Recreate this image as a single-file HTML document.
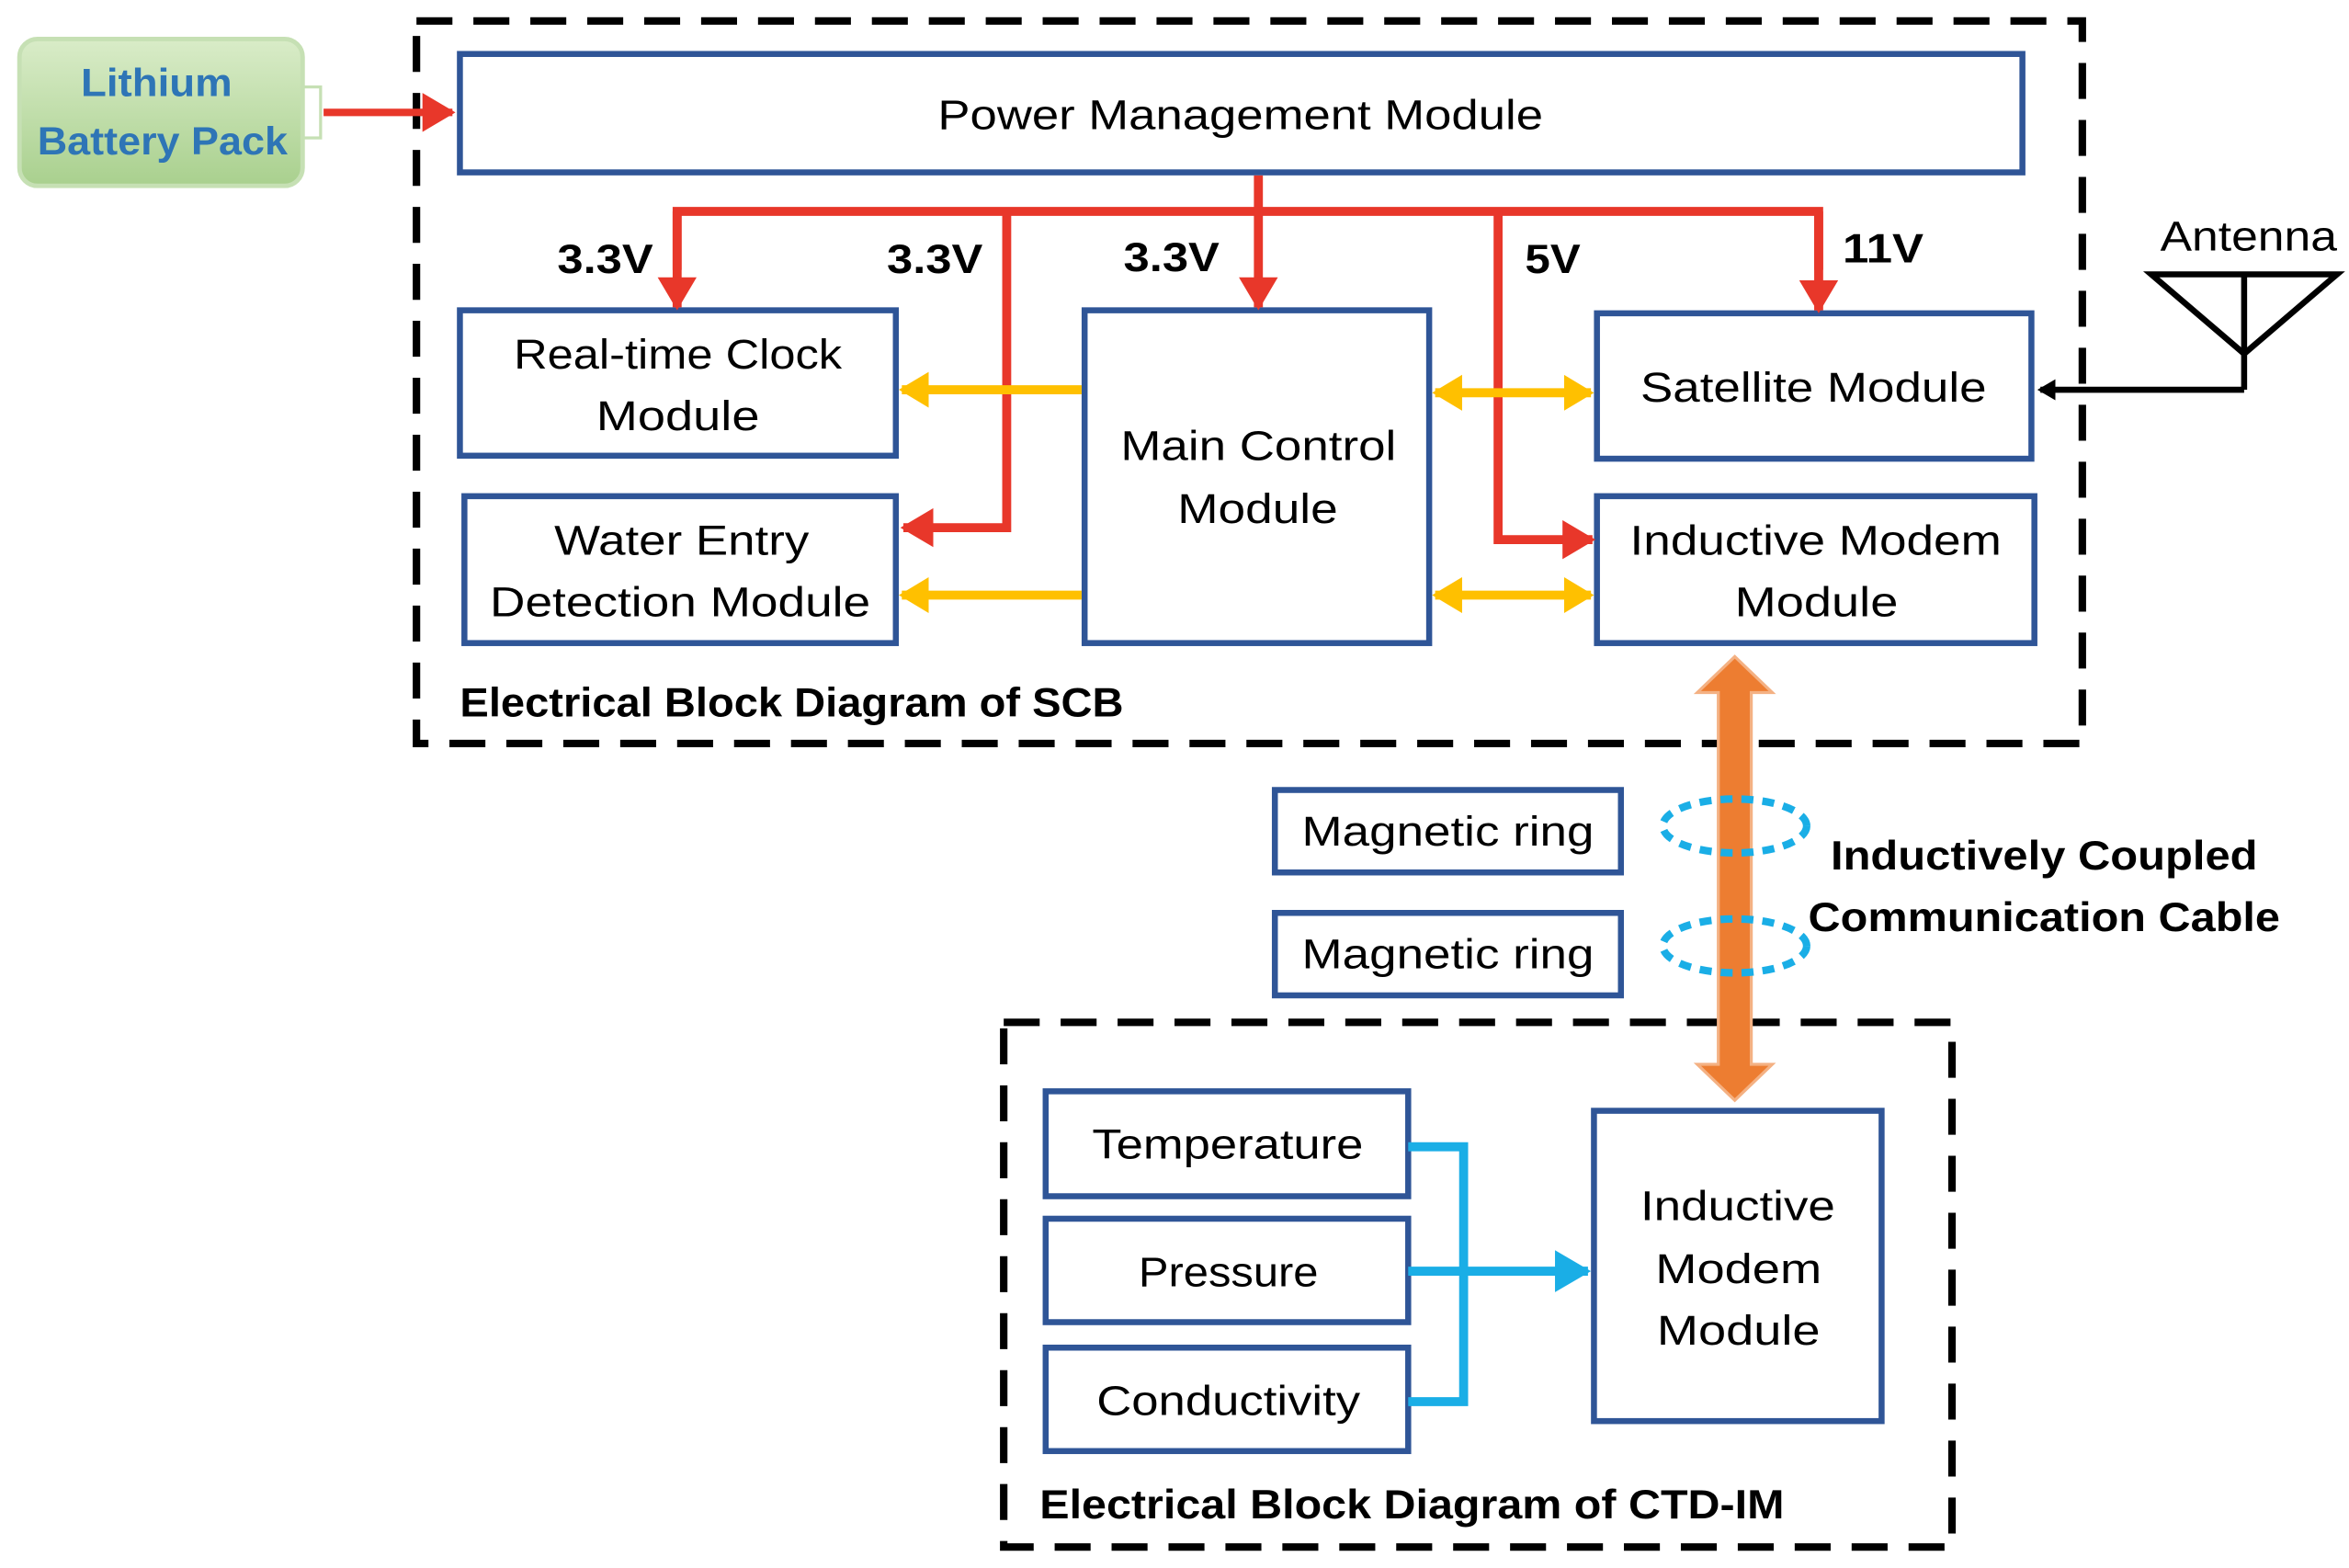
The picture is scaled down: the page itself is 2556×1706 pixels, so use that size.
<!DOCTYPE html>
<html><head><meta charset="utf-8"><style>
html,body{margin:0;padding:0;background:#fff;}
svg{display:block;}
text{font-family:"Liberation Sans",sans-serif;}
</style></head><body>
<svg width="2556" height="1706" viewBox="0 0 1568 1046" preserveAspectRatio="none" xmlns="http://www.w3.org/2000/svg">
<defs>
<linearGradient id="g" x1="0" y1="0" x2="0" y2="1"><stop offset="0" stop-color="#d9ecc8"/><stop offset="1" stop-color="#a9d08e"/></linearGradient>
<marker id="ar" markerWidth="22" markerHeight="26" refX="20" refY="13" orient="auto" markerUnits="userSpaceOnUse"><path d="M0,0 L22,13 L0,26 z" fill="#e8372a"/></marker>
<marker id="ay" markerWidth="20" markerHeight="24" refX="18" refY="12" orient="auto-start-reverse" markerUnits="userSpaceOnUse"><path d="M0,0 L20,12 L0,24 z" fill="#ffc000"/></marker>
<marker id="ab" markerWidth="24" markerHeight="28" refX="22" refY="14" orient="auto" markerUnits="userSpaceOnUse"><path d="M0,0 L24,14 L0,28 z" fill="#1aaee6"/></marker>
<marker id="ak" markerWidth="12" markerHeight="14" refX="10" refY="7" orient="auto" markerUnits="userSpaceOnUse"><path d="M0,0 L12,7 L0,14 z" fill="#000"/></marker>
</defs>
<rect x="278" y="14" width="1112" height="482" fill="none" stroke="#000" stroke-width="5" stroke-dasharray="24,14"/>
<rect x="670" y="682" width="633" height="350" fill="none" stroke="#000" stroke-width="5" stroke-dasharray="24,14"/>
<rect x="202" y="58" width="12" height="34" fill="#fff" stroke="#c6e0b4" stroke-width="2"/>
<rect x="13" y="26" width="189" height="98" rx="12" fill="url(#g)" stroke="#c6e0b4" stroke-width="3"/>
<g lengthAdjust="spacingAndGlyphs">
<text x="54" y="64" font-size="26" font-weight="bold" fill="#2e75b6" textLength="101" lengthAdjust="spacingAndGlyphs">Lithium</text>
<text x="25" y="103" font-size="26" font-weight="bold" fill="#2e75b6" textLength="167" lengthAdjust="spacingAndGlyphs">Battery Pack</text>
</g>
<line x1="216" y1="75" x2="302" y2="75" stroke="#e8372a" stroke-width="5" marker-end="url(#ar)"/>
<g fill="#fff" stroke="#2f5597" stroke-width="4">
<rect x="307" y="36" width="1043" height="79"/>
<rect x="307" y="207" width="291" height="97"/>
<rect x="310" y="331" width="288" height="98"/>
<rect x="724" y="207" width="230" height="222"/>
<rect x="1066" y="209" width="290" height="97"/>
<rect x="1066" y="331" width="292" height="98"/>
<rect x="851" y="527" width="231" height="55"/>
<rect x="851" y="609" width="231" height="55"/>
<rect x="698" y="728" width="242" height="70"/>
<rect x="698" y="813" width="242" height="69"/>
<rect x="698" y="899" width="242" height="69"/>
<rect x="1064" y="741" width="192" height="207"/>
</g>
<g font-size="28" fill="#000">
<text x="626" y="86" textLength="404" lengthAdjust="spacingAndGlyphs">Power Management Module</text>
<text x="343" y="246" textLength="219" lengthAdjust="spacingAndGlyphs">Real-time Clock</text>
<text x="398" y="287" textLength="109" lengthAdjust="spacingAndGlyphs">Module</text>
<text x="370" y="370" textLength="170" lengthAdjust="spacingAndGlyphs">Water Entry</text>
<text x="327" y="411" textLength="254" lengthAdjust="spacingAndGlyphs">Detection Module</text>
<text x="748" y="307" textLength="184" lengthAdjust="spacingAndGlyphs">Main Control</text>
<text x="786" y="349" textLength="107" lengthAdjust="spacingAndGlyphs">Module</text>
<text x="1095" y="268" textLength="231" lengthAdjust="spacingAndGlyphs">Satellite Module</text>
<text x="1088" y="370" textLength="248" lengthAdjust="spacingAndGlyphs">Inductive Modem</text>
<text x="1158" y="411" textLength="109" lengthAdjust="spacingAndGlyphs">Module</text>
<text x="869" y="564" textLength="195" lengthAdjust="spacingAndGlyphs">Magnetic ring</text>
<text x="869" y="646" textLength="195" lengthAdjust="spacingAndGlyphs">Magnetic ring</text>
<text x="729" y="773" textLength="181" lengthAdjust="spacingAndGlyphs">Temperature</text>
<text x="760" y="858" textLength="120" lengthAdjust="spacingAndGlyphs">Pressure</text>
<text x="732" y="944" textLength="176" lengthAdjust="spacingAndGlyphs">Conductivity</text>
<text x="1095" y="814" textLength="130" lengthAdjust="spacingAndGlyphs">Inductive</text>
<text x="1105" y="856" textLength="111" lengthAdjust="spacingAndGlyphs">Modem</text>
<text x="1106" y="897" textLength="109" lengthAdjust="spacingAndGlyphs">Module</text>
<text x="1442" y="167" textLength="118" lengthAdjust="spacingAndGlyphs">Antenna</text>
</g>
<g font-size="27" font-weight="bold" fill="#000">
<text x="372" y="182" textLength="64" lengthAdjust="spacingAndGlyphs">3.3V</text>
<text x="592" y="182" textLength="64" lengthAdjust="spacingAndGlyphs">3.3V</text>
<text x="750" y="181" textLength="64" lengthAdjust="spacingAndGlyphs">3.3V</text>
<text x="1018" y="182" textLength="37" lengthAdjust="spacingAndGlyphs">5V</text>
<text x="1230" y="175" textLength="54" lengthAdjust="spacingAndGlyphs">11V</text>
<text x="307" y="478" textLength="443" lengthAdjust="spacingAndGlyphs">Electrical Block Diagram of SCB</text>
<text x="694" y="1013" textLength="497" lengthAdjust="spacingAndGlyphs">Electrical Block Diagram of CTD-IM</text>
<text x="1222" y="580" textLength="285" lengthAdjust="spacingAndGlyphs">Inductively Coupled</text>
<text x="1207" y="621" textLength="315" lengthAdjust="spacingAndGlyphs">Communication Cable</text>
</g>
<g fill="none" stroke="#e8372a" stroke-width="6">
<polyline points="840,117 840,141"/>
<polyline points="452,180 452,141 1214,141 1214,180"/>
<line x1="452" y1="141" x2="452" y2="205" marker-end="url(#ar)"/>
<line x1="840" y1="141" x2="840" y2="205" marker-end="url(#ar)"/>
<line x1="1214" y1="141" x2="1214" y2="207" marker-end="url(#ar)"/>
<polyline points="672,141 672,352 603,352" marker-end="url(#ar)"/>
<polyline points="1000,141 1000,360 1063,360" marker-end="url(#ar)"/>
</g>
<g stroke="#ffc000" stroke-width="6" fill="none">
<line x1="722" y1="260" x2="602" y2="260" marker-end="url(#ay)"/>
<line x1="722" y1="397" x2="602" y2="397" marker-end="url(#ay)"/>
<line x1="958" y1="262" x2="1062" y2="262" marker-start="url(#ay)" marker-end="url(#ay)"/>
<line x1="958" y1="397" x2="1062" y2="397" marker-start="url(#ay)" marker-end="url(#ay)"/>
</g>
<g stroke="#000" stroke-width="4" fill="none">
<path d="M1436,183 L1560,183 L1498,236 Z"/>
<line x1="1498" y1="183" x2="1498" y2="260"/>
<polyline points="1498,260 1362,260" marker-end="url(#ak)"/>
</g>
<path d="M1158,438 L1183,462 L1169,462 L1169,710 L1183,710 L1158,734 L1133,710 L1147,710 L1147,462 L1133,462 Z" fill="#ed7d31" stroke="#f4b183" stroke-width="2"/>
<g fill="none" stroke="#1aaee6" stroke-width="5" stroke-dasharray="8,6">
<ellipse cx="1158" cy="551" rx="48" ry="18"/>
<ellipse cx="1158" cy="631" rx="48" ry="18"/>
</g>
<g stroke="#1aaee6" stroke-width="6" fill="none">
<polyline points="940,765 977,765 977,935 940,935"/>
<line x1="940" y1="848" x2="1060" y2="848" marker-end="url(#ab)"/>
</g>
</svg>
</body></html>
